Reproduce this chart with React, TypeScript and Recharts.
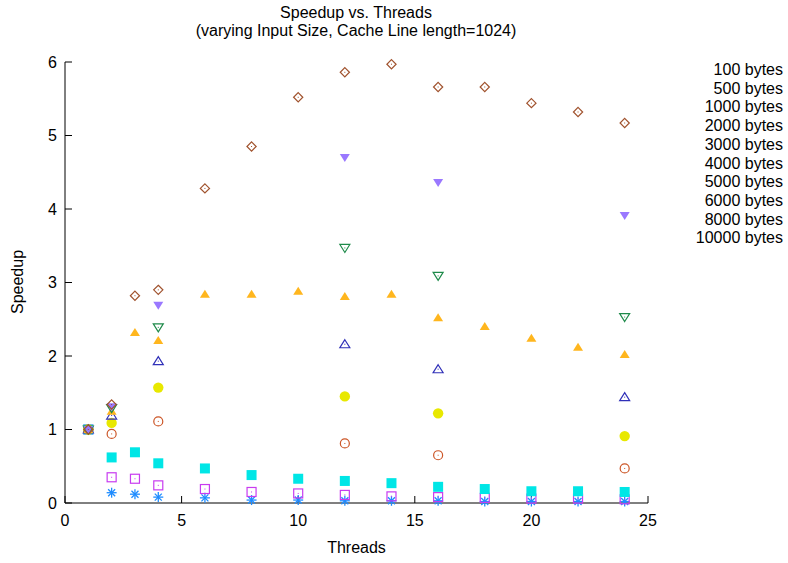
import { ScatterChart, Scatter, XAxis, YAxis } from "recharts";

const threadsFull = [1, 2, 3, 4, 6, 8, 10, 12, 14, 16, 18, 20, 22, 24];
const threadsSparse = [1, 2, 4, 12, 16, 24];

const seriesNames = [
  "100 bytes", "500 bytes", "1000 bytes", "2000 bytes", "3000 bytes",
  "4000 bytes", "5000 bytes", "6000 bytes", "8000 bytes", "10000 bytes",
];

const s100 = [1.0, 0.14, 0.12, 0.08, 0.07, 0.04, 0.04, 0.03, 0.03, 0.03, 0.02, 0.02, 0.02, 0.02];
const s500 = [1.0, 0.35, 0.33, 0.24, 0.19, 0.15, 0.13, 0.11, 0.09, 0.08, 0.07, 0.06, 0.06, 0.05];
const s1000 = [1.0, 0.62, 0.69, 0.54, 0.47, 0.38, 0.33, 0.3, 0.27, 0.22, 0.19, 0.16, 0.16, 0.15];
const s2000 = [1.0, 0.94, 1.11, 0.81, 0.65, 0.47];
const s3000 = [1.0, 1.09, 1.57, 1.45, 1.22, 0.91];
const s4000 = [1.0, 1.19, 1.93, 2.16, 1.82, 1.44];
const s5000 = [1.0, 1.25, 2.32, 2.21, 2.84, 2.84, 2.88, 2.81, 2.84, 2.52, 2.4, 2.24, 2.12, 2.02];
const s6000 = [1.0, 1.29, 2.39, 3.47, 3.09, 2.53];
const s8000 = [1.0, 1.31, 2.69, 4.7, 4.36, 3.91];
const s10000 = [1.0, 1.34, 2.82, 2.9, 4.28, 4.85, 5.52, 5.86, 5.97, 5.66, 5.66, 5.44, 5.32, 5.17];

const xTicks = [0, 5, 10, 15, 20, 25];
const yTicks = [0, 1, 2, 3, 4, 5, 6];

const toPoints = (xs: number[], ys: number[]) => xs.map((x, i) => ({ x, y: ys[i] }));

const dot = (cx: number, cy: number, c: string) => (
  <rect x={cx - 0.5} y={cy - 0.5} width={1} height={1} fill={c} />
);

const Asterisk = ({ cx, cy, color }: any) => (
  <g stroke={color} strokeWidth={1.3}>
    <line x1={cx - 5} y1={cy} x2={cx + 5} y2={cy} />
    <line x1={cx} y1={cy - 5} x2={cx} y2={cy + 5} />
    <line x1={cx - 3.5} y1={cy - 3.5} x2={cx + 3.5} y2={cy + 3.5} />
    <line x1={cx - 3.5} y1={cy + 3.5} x2={cx + 3.5} y2={cy - 3.5} />
  </g>
);

const OpenSquare = ({ cx, cy, color }: any) => (
  <g>
    <rect x={cx - 4.5} y={cy - 4.5} width={9} height={9} fill="none" stroke={color} strokeWidth={1.2} />
    {dot(cx, cy, color)}
  </g>
);

const FilledSquare = ({ cx, cy, color }: any) => (
  <rect x={cx - 5} y={cy - 5} width={10} height={10} fill={color} />
);

const OpenCircle = ({ cx, cy, color }: any) => (
  <g>
    <circle cx={cx} cy={cy} r={4.5} fill="none" stroke={color} strokeWidth={1.2} />
    {dot(cx, cy, color)}
  </g>
);

const FilledCircle = ({ cx, cy, color }: any) => <circle cx={cx} cy={cy} r={5.2} fill={color} />;

const tri = (cx: number, cy: number, up: boolean) => {
  const s = up ? 1 : -1;
  return `${cx},${cy - 4.5 * s} ${cx + 5},${cy + 3.5 * s} ${cx - 5},${cy + 3.5 * s}`;
};

const OpenTri = ({ cx, cy, color }: any) => (
  <g>
    <polygon points={tri(cx, cy, true)} fill="none" stroke={color} strokeWidth={1.2} />
    {dot(cx, cy, color)}
  </g>
);
const FilledTri = ({ cx, cy, color }: any) => <polygon points={tri(cx, cy, true)} fill={color} />;
const OpenInvTri = ({ cx, cy, color }: any) => (
  <g>
    <polygon points={tri(cx, cy, false)} fill="none" stroke={color} strokeWidth={1.2} />
    {dot(cx, cy, color)}
  </g>
);
const FilledInvTri = ({ cx, cy, color }: any) => <polygon points={tri(cx, cy, false)} fill={color} />;

const OpenDiamond = ({ cx, cy, color }: any) => (
  <g>
    <polygon
      points={`${cx},${cy - 4.6} ${cx + 4.6},${cy} ${cx},${cy + 4.6} ${cx - 4.6},${cy}`}
      fill="none"
      stroke={color}
      strokeWidth={1.2}
    />
    {dot(cx, cy, color)}
  </g>
);

const series = [
  { name: seriesNames[0], data: toPoints(threadsFull, s100), color: "#1e8cff", Shape: Asterisk },
  { name: seriesNames[1], data: toPoints(threadsFull, s500), color: "#c83cf0", Shape: OpenSquare },
  { name: seriesNames[2], data: toPoints(threadsFull, s1000), color: "#00e6e6", Shape: FilledSquare },
  { name: seriesNames[3], data: toPoints(threadsSparse, s2000), color: "#cc5526", Shape: OpenCircle },
  { name: seriesNames[4], data: toPoints(threadsSparse, s3000), color: "#e8e800", Shape: FilledCircle },
  { name: seriesNames[5], data: toPoints(threadsSparse, s4000), color: "#3030b8", Shape: OpenTri },
  { name: seriesNames[6], data: toPoints(threadsFull, s5000), color: "#ffb61e", Shape: FilledTri },
  { name: seriesNames[7], data: toPoints(threadsSparse, s6000), color: "#1e8a4a", Shape: OpenInvTri },
  { name: seriesNames[8], data: toPoints(threadsSparse, s8000), color: "#9a78ff", Shape: FilledInvTri },
  { name: seriesNames[9], data: toPoints(threadsFull, s10000), color: "#a0522d", Shape: OpenDiamond },
];

const font = '"Liberation Sans", Arial, Helvetica, sans-serif';

export default function App() {
  return (
    <div style={{ position: "absolute", left: 0, top: 0, width: 788, height: 563, background: "#fff", fontFamily: font }}>
      <div style={{ position: "absolute", left: 156, width: 400, top: 4, textAlign: "center", fontSize: 16, lineHeight: "18px" }}>
        Speedup vs. Threads
        <br />
        (varying Input Size, Cache Line length=1024)
      </div>
      <div
        style={{
          position: "absolute",
          left: 18,
          top: 282,
          fontSize: 16,
          transform: "translate(-50%, -50%) rotate(-90deg)",
          whiteSpace: "nowrap",
        }}
      >
        Speedup
      </div>
      <div style={{ position: "absolute", right: 5, top: 61, textAlign: "right", fontSize: 16, lineHeight: "18.7px" }}>
        {seriesNames.map((n) => (
          <div key={n}>{n}</div>
        ))}
      </div>
      <ScatterChart width={788} height={563} margin={{ top: 62, right: 140, bottom: 30, left: 35 }}>
        <XAxis
          xAxisId="b"
          type="number"
          dataKey="x"
          domain={[0, 25]}
          ticks={xTicks}
          height={30}
          tickSize={-7}
          tickMargin={19}
          stroke="#000"
          tick={{ fill: "#000", fontSize: 16, fontFamily: font }}
          label={{ value: "Threads", position: "bottom", offset: 9, fill: "#000", fontSize: 16, fontFamily: font }}
        />
        <XAxis
          xAxisId="t"
          orientation="top"
          type="number"
          dataKey="x"
          domain={[0, 25]}
          ticks={xTicks}
          height={0}
          tickSize={-7}
          tick={false}
          stroke="#000"
        />
        <YAxis
          yAxisId="l"
          type="number"
          dataKey="y"
          domain={[0, 6]}
          ticks={yTicks}
          width={30}
          tickSize={-7}
          tickMargin={15}
          stroke="#000"
          tick={{ fill: "#000", fontSize: 16, fontFamily: font }}
        />
        <YAxis
          yAxisId="r"
          orientation="right"
          type="number"
          dataKey="y"
          domain={[0, 6]}
          ticks={yTicks}
          width={0}
          tickSize={-7}
          tick={false}
          stroke="#000"
        />
        {series.map(({ name, data, color, Shape }) => (
          <Scatter
            key={name}
            name={name}
            data={data}
            xAxisId="b"
            yAxisId="l"
            isAnimationActive={false}
            shape={(p: any) => <Shape cx={p.cx} cy={p.cy} color={color} />}
          />
        ))}
      </ScatterChart>
    </div>
  );
}
